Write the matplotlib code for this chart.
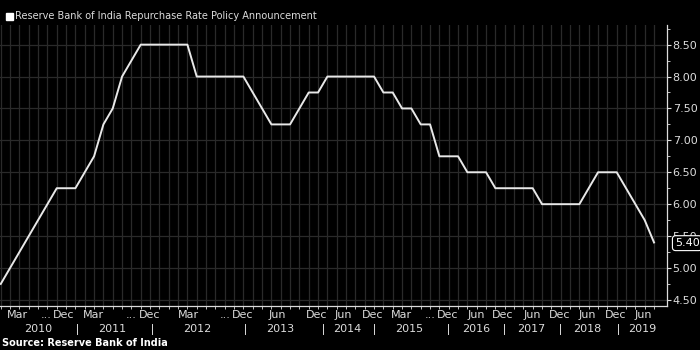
import matplotlib
matplotlib.use("Agg")
import matplotlib.pyplot as plt
from matplotlib.patches import Rectangle
from matplotlib.ticker import MultipleLocator, FixedLocator, FormatStrFormatter

# RBI repo rate at each policy announcement, Jan 2010 - Aug 2019
repo_rate = [4.75, 5.00, 5.25, 5.50, 5.75, 6.00, 6.25, 6.25, 6.25,
             6.50, 6.75, 7.25, 7.50, 8.00, 8.25, 8.50, 8.50, 8.50, 8.50, 8.50, 8.50,
             8.00, 8.00, 8.00, 8.00, 8.00, 8.00,
             7.75, 7.50, 7.25, 7.25, 7.25, 7.50, 7.75, 7.75,
             8.00, 8.00, 8.00, 8.00, 8.00, 8.00,
             7.75, 7.75, 7.50, 7.50, 7.25, 7.25, 6.75, 6.75,
             6.75, 6.50, 6.50, 6.50, 6.25, 6.25,
             6.25, 6.25, 6.25, 6.00, 6.00, 6.00,
             6.00, 6.00, 6.25, 6.50, 6.50, 6.50,
             6.25, 6.00, 5.75, 5.40]

month_labels = ["Mar", "... Dec", "Mar", "... Dec", "Mar", "... Dec", "Jun", "Dec", "Jun",
                "Dec", "Mar", "... Dec", "Jun", "Dec", "Jun", "Dec", "Jun", "Dec", "Jun"]
month_pos = [1.8, 6.7, 9.9, 15.9, 20.1, 25.9, 29.6, 33.9, 36.7,
             39.8, 42.9, 47.9, 51.0, 53.8, 57.0, 59.9, 62.9, 65.9, 68.8]
year_labels = ["2010", "2011", "2012", "2013", "2014", "2015", "2016", "2017", "2018", "2019"]
year_pos = [4.0, 11.9, 21.1, 29.9, 37.1, 43.8, 50.9, 56.8, 62.8, 68.7]
year_breaks = [8.2, 16.2, 26.2, 34.5, 40.0, 47.9, 53.9, 59.9, 66.1]

fg = "#dcdcdc"
grid = "#2a2a2a"

fig = plt.figure(figsize=(7, 3.5), dpi=100, facecolor="black")
ax = fig.add_axes([0.0, 0.126, 0.953, 0.803], facecolor="black")

x = list(range(len(repo_rate)))
ax.plot(x, repo_rate, color="#e8e8e8", lw=1.4, zorder=3)

ax.set_xlim(-0.08, 71.4)
ax.set_ylim(4.406, 8.81)

# y axis on the right
ax.yaxis.tick_right()
ax.yaxis.set_major_locator(MultipleLocator(0.5))
ax.yaxis.set_minor_locator(MultipleLocator(0.25))
ax.yaxis.set_major_formatter(FormatStrFormatter("%.2f"))
ax.tick_params(axis="y", which="major", colors=fg, labelsize=8, length=3, width=0.8, pad=1)
ax.tick_params(axis="y", which="minor", colors=fg, length=2, width=0.6)

# one tick and one grid line per announcement
ax.xaxis.set_major_locator(FixedLocator(x))
ax.tick_params(axis="x", which="major", colors=fg, length=2, width=0.6, labelbottom=False)

ax.grid(True, which="major", axis="both", color=grid, lw=0.9, zorder=0)

for side in ["top", "left"]:
    ax.spines[side].set_visible(False)
for side in ["right", "bottom"]:
    ax.spines[side].set_color(fg)
    ax.spines[side].set_linewidth(0.9)

trans = ax.get_xaxis_transform()
for p, lab in zip(month_pos, month_labels):
    if lab.startswith("..."):
        ax.text(p, -0.033, lab[4:], transform=trans, ha="center", va="center",
                color=fg, fontsize=8, clip_on=False)
        ax.text(p - 1.3, -0.033, "...", transform=trans, ha="right", va="center",
                color=fg, fontsize=8, clip_on=False)
    else:
        ax.text(p, -0.033, lab, transform=trans, ha="center", va="center",
                color=fg, fontsize=8, clip_on=False)
for p, lab in zip(year_pos, year_labels):
    ax.text(p, -0.083, lab, transform=trans, ha="center", va="center",
            color=fg, fontsize=8, clip_on=False)
for p in year_breaks:
    ax.plot([p, p], [-0.065, -0.1], transform=trans, color=fg, lw=0.7, clip_on=False)

# last value tag on the right axis, covering the nearby tick label
last = repo_rate[-1]
ax.annotate(f"{last:.2f}", xy=(1.0, last), xycoords=ax.get_yaxis_transform(),
            xytext=(14.5, -0.5), textcoords="offset points", ha="center", va="center",
            color="white", fontsize=8, zorder=5, annotation_clip=False,
            bbox=dict(boxstyle="round,pad=0.22,rounding_size=0.3", fc="black",
                      ec="white", lw=0.8))

# legend and source
fig.patches.append(Rectangle((6 / 700, 1 - 20 / 350), 7 / 700, 7 / 350,
                             transform=fig.transFigure, color="white"))
fig.text(15 / 700, 1 - 16 / 350, "Reserve Bank of India Repurchase Rate Policy Announcement",
         color=fg, fontsize=7, va="center", ha="left")
fig.text(2 / 700, 1 - 343 / 350, "Source: Reserve Bank of India",
         color="white", fontsize=7, fontweight="bold", va="center", ha="left")

fig.savefig("out.png", dpi=100, facecolor="black")
